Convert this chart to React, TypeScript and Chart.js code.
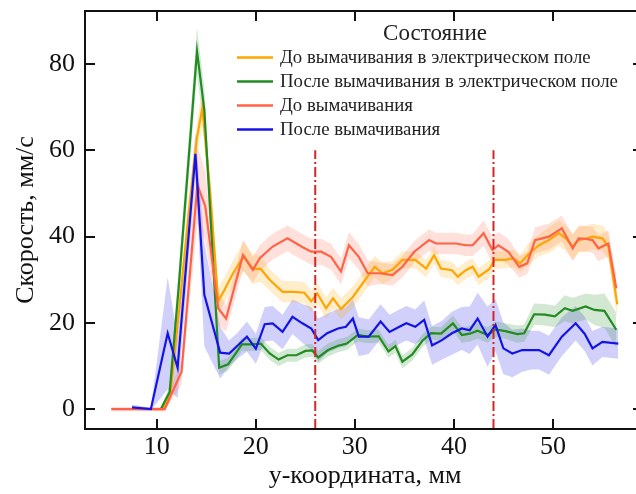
import React, { useEffect, useRef } from "react";
import { Chart, registerables } from "chart.js";

Chart.register(...registerables);

// ---- axes ----
const X_TICKS = [10, 20, 30, 40, 50];
const Y_TICKS = [0, 20, 40, 60, 80];
const X_MIN = 2.75;
const X_MAX = 59.3;
const Y_MIN = -4.6;
const Y_MAX = 92.3;
const X_TITLE = "y-координата, мм";
const Y_TITLE = "Скорость, мм/с";

// ---- vertical dash-dot markers ----
const MARKER_X = [26, 44];
const MARKER_TOP = 60;

// ---- legend ----
const LEGEND_TITLE = "Состояние";
const LABELS = [
  "До вымачивания в электрическом поле",
  "После вымачивания в электрическом поле",
  "До вымачивания",
  "После вымачивания",
];
const COLORS = ["#FFA500", "#228B22", "#FF6347", "#1414E6"];
const BAND_COLORS = [
  "rgba(255,165,0,0.2)",
  "rgba(34,139,34,0.2)",
  "rgba(255,99,71,0.2)",
  "rgba(20,20,230,0.2)",
];

// ---- series: До вымачивания в электрическом поле (orange) ----
const orangeX = [9.6, 10.6, 11.4, 12.3, 13.2, 14.06, 14.6, 15.4, 16.2, 16.8, 17.7, 18.8, 19.7, 20.5, 21.4, 22.7, 23.9, 24.9, 25.6, 26.2, 27.1, 27.8, 28.6, 29.8, 30.8, 32.0, 32.8, 33.8, 34.8, 36.1, 37.2, 38.0, 38.7, 39.8, 40.4, 41.2, 41.9, 42.5, 43.6, 44.1, 45.2, 46.0, 46.7, 47.6, 48.6, 49.6, 50.6, 51.3, 52.0, 52.6, 53.3, 54.0, 55.0, 55.6, 56.5];
const orangeY = [0, 0, 4, 24, 45, 63, 69.8, 50, 25, 27.5, 31.5, 35.5, 32.5, 32.5, 30, 27.2, 27.2, 27, 25, 26.8, 23.4, 25.7, 23.2, 26, 29.2, 33, 31.5, 32.3, 34.6, 34.6, 32.6, 35.7, 32.6, 32.2, 30.7, 32.2, 33, 30.7, 32.5, 34.6, 34.6, 35, 33.8, 36.1, 38, 39.2, 40.8, 39.6, 37.7, 39.2, 39.5, 40, 39.6, 37.7, 24.3];
const orangeErr = [0.3, 0.3, 1.5, 3, 4, 4, 4, 4, 3, 3, 3, 3.5, 3.5, 3, 2.5, 2.5, 2.5, 2.5, 2.5, 2.5, 2.5, 2.5, 2.5, 2.5, 2.5, 2.5, 2.5, 2, 2, 2, 2, 2, 2, 2, 2, 2, 2, 2, 2, 2, 2, 2, 2, 2.5, 2.5, 3, 3, 3, 3, 3, 3, 3, 3, 3, 3.5];

// ---- series: После вымачивания в электрическом поле (green) ----
const greenX = [10.4, 11.3, 12.2, 14.06, 14.8, 16.3, 17.2, 18.6, 19.6, 20.5, 21.4, 22.3, 23.2, 24.1, 25.0, 25.7, 26.3, 27.3, 28.3, 29.2, 30.3, 31.3, 32.4, 33.4, 34.1, 34.8, 35.8, 36.8, 37.7, 38.7, 39.9, 40.8, 41.6, 42.4, 43.4, 44.2, 45.2, 46.4, 47.1, 48.1, 49.2, 50.2, 51.2, 52.0, 53.3, 54.2, 55.2, 56.4];
const greenY = [0, 4, 28, 83, 69.4, 9.6, 10.4, 15.0, 15.0, 15.2, 12.9, 11.5, 12.5, 12.5, 13.5, 13.6, 12.0, 13.7, 14.7, 15.2, 17.2, 16.8, 16.9, 13.4, 14.6, 11.0, 12.7, 15.8, 17.6, 17.5, 19.9, 17.2, 17.5, 18.2, 17.2, 18.5, 18.1, 17.4, 17.6, 22.0, 21.9, 21.5, 23.4, 22.8, 23.8, 23.0, 22.8, 18.4];
const greenErr = [0.3, 1.5, 4, 5.5, 5, 1.5, 1.5, 1.5, 1.5, 1.5, 1.5, 1.5, 1.5, 1.5, 1.5, 1.5, 1.5, 1.5, 1.5, 1.5, 1.5, 1.5, 1.5, 1.5, 1.5, 1.5, 1.5, 1.5, 1.5, 1.5, 1.8, 1.8, 1.8, 1.8, 1.8, 1.8, 1.8, 2, 2, 2.5, 2.5, 2.5, 3, 3, 3, 3.5, 4, 4];

// ---- series: До вымачивания (tomato) ----
const redX = [5.4, 7.4, 9.2, 10.8, 12.5, 14.1, 14.9, 16.2, 17.0, 18.7, 19.7, 20.4, 21.7, 23.2, 24.6, 25.6, 26.6, 27.6, 28.6, 29.4, 30.4, 31.3, 32.5, 33.8, 34.8, 36.0, 37.5, 38.2, 39.2, 40.2, 41.2, 41.9, 43.0, 43.9, 44.5, 45.5, 46.6, 47.4, 48.2, 49.6, 50.9, 52.0, 52.6, 53.3, 54.0, 54.6, 55.6, 56.4];
const redY = [0, 0, 0, 0, 8.7, 52, 47, 23.4, 21, 35.7, 32.3, 35, 37.7, 39.6, 37.7, 36.5, 36.5, 35.3, 31.9, 38, 35.3, 31.5, 31.5, 31.1, 33, 36.5, 39.2, 38.4, 38.4, 38.4, 38, 38, 40.8, 36.9, 38, 36.5, 33, 33.8, 39.2, 40, 41.9, 37.3, 39.6, 39.5, 39.2, 37.3, 38.4, 28];
const redErr = [0.5, 0.5, 0.5, 0.5, 3, 9, 8, 4, 3, 3.5, 3, 3, 3, 3, 3, 3, 3, 3, 3, 3, 3, 3, 2.5, 2.5, 2.5, 2.5, 2.5, 2.5, 2.5, 2.5, 2.5, 2.5, 3, 3, 3, 3, 2.5, 2.5, 3, 3, 3, 3, 3, 3, 3, 3, 3, 3];

// ---- series: После вымачивания (blue) ----
const blueX = [7.5, 9.4, 11.1, 12.1, 13.9, 14.8, 16.4, 17.3, 18.2, 19.1, 20.0, 20.9, 21.7, 22.7, 23.7, 24.7, 25.6, 26.3, 27.2, 28.3, 29.1, 29.8, 30.4, 31.4, 32.6, 33.5, 34.5, 35.2, 36.1, 37.0, 37.8, 38.8, 39.8, 40.8, 41.6, 42.4, 43.4, 44.2, 45.0, 45.9, 46.9, 47.8, 48.6, 49.6, 50.9, 52.3, 53.2, 54.0, 55.0, 56.6];
const blueY = [0.4, 0, 17.6, 9.6, 59.2, 26.5, 13.1, 12.9, 14.8, 16.8, 14.0, 19.7, 19.9, 17.9, 21.4, 19.9, 18.7, 16.0, 17.6, 18.7, 19.1, 21.0, 16.8, 16.8, 20.3, 17.9, 19.1, 19.9, 19.1, 20.7, 14.8, 16.0, 17.6, 18.7, 18.3, 21.0, 16.8, 19.5, 14.1, 12.9, 13.7, 13.7, 13.7, 12.5, 16.8, 19.9, 17.5, 14.1, 15.6, 15.2];
const blueErr = [0.6, 0.3, 13, 7, 5, 12, 6, 3, 3, 3.5, 3.5, 4, 4, 4, 4, 4.5, 5, 5, 4.5, 4.5, 4.5, 4.5, 4.5, 4, 4, 4, 4, 4, 4, 4.5, 4.5, 4.5, 5, 5, 5.5, 6, 7, 6, 6, 5.5, 5, 4.5, 4.5, 4.5, 4.5, 4, 4, 4, 3.5, 3.5];

const SERIES = [
  { xs: orangeX, ys: orangeY, err: orangeErr, order: 4 },
  { xs: greenX, ys: greenY, err: greenErr, order: 3 },
  { xs: redX, ys: redY, err: redErr, order: 2 },
  { xs: blueX, ys: blueY, err: blueErr, order: 1 },
];

const FONT = "'Liberation Serif', 'Times New Roman', serif";

function points(xs: number[], ys: number[]) {
  return xs.map((x, i) => ({ x, y: ys[i] }));
}

const framePlugin = {
  id: "frame",
  afterDatasetsDraw(chart: any) {
    const { ctx, chartArea, scales } = chart;
    const { left, right, top, bottom } = chartArea;
    const L = 10;
    ctx.save();
    ctx.strokeStyle = "#111";
    ctx.lineWidth = 2;
    ctx.beginPath();
    ctx.rect(left, top, right - left, bottom - top);
    ctx.stroke();
    ctx.beginPath();
    for (const v of X_TICKS) {
      const px = Math.round(scales.x.getPixelForValue(v));
      ctx.moveTo(px, bottom);
      ctx.lineTo(px, bottom - L);
      ctx.moveTo(px, top);
      ctx.lineTo(px, top + L);
    }
    for (const v of Y_TICKS) {
      const py = Math.round(scales.y.getPixelForValue(v));
      ctx.moveTo(left, py);
      ctx.lineTo(left + L, py);
      ctx.moveTo(right, py);
      ctx.lineTo(right - L - 2, py);
    }
    ctx.stroke();
    ctx.restore();
  },
};

const legendPlugin = {
  id: "customLegend",
  afterDraw(chart: any) {
    const { ctx } = chart;
    ctx.save();
    ctx.fillStyle = "#222";
    ctx.textBaseline = "middle";
    ctx.textAlign = "center";
    ctx.font = `23px ${FONT}`;
    ctx.fillText(LEGEND_TITLE, 435, 34);
    ctx.textAlign = "left";
    ctx.font = `18.8px ${FONT}`;
    LABELS.forEach((label, i) => {
      const y = 57.5 + i * 24;
      ctx.strokeStyle = COLORS[i];
      ctx.lineWidth = 2.5;
      ctx.beginPath();
      ctx.moveTo(237, y);
      ctx.lineTo(273, y);
      ctx.stroke();
      ctx.fillText(label, 280, y + 1);
    });
    ctx.restore();
  },
};

export default function App() {
  const ref = useRef<HTMLCanvasElement | null>(null);

  useEffect(() => {
    if (!ref.current) return;
    const datasets: any[] = [];
    SERIES.forEach((s, i) => {
      datasets.push({
        label: LABELS[i],
        data: points(s.xs, s.ys),
        borderColor: COLORS[i],
        borderWidth: 2.2,
        pointRadius: 0,
        tension: 0,
        fill: false,
        order: s.order,
      });
    });
    SERIES.forEach((s, i) => {
      datasets.push({
        label: LABELS[i] + " upper",
        data: points(s.xs, s.ys.map((v, k) => v + s.err[k])),
        borderWidth: 0,
        borderColor: "rgba(0,0,0,0)",
        pointRadius: 0,
        tension: 0,
        fill: false,
        order: 10 + i,
      });
      datasets.push({
        label: LABELS[i] + " lower",
        data: points(s.xs, s.ys.map((v, k) => v - s.err[k])),
        borderWidth: 0,
        borderColor: "rgba(0,0,0,0)",
        backgroundColor: BAND_COLORS[i],
        pointRadius: 0,
        tension: 0,
        fill: "-1",
        order: 10 + i,
      });
    });
    MARKER_X.forEach((mx) => {
      datasets.push({
        label: "marker " + mx,
        data: [
          { x: mx, y: Y_MIN },
          { x: mx, y: MARKER_TOP },
        ],
        borderColor: "#D62728",
        borderWidth: 2,
        borderDash: [10, 3, 2, 3],
        pointRadius: 0,
        fill: false,
        order: 0,
      });
    });

    const chart = new Chart(ref.current, {
      type: "line",
      data: { datasets },
      options: {
        animation: false,
        responsive: false,
        devicePixelRatio: 1,
        layout: { padding: { left: 0, right: 15, top: 11, bottom: 0 } },
        plugins: { legend: { display: false }, tooltip: { enabled: false } },
        scales: {
          x: {
            type: "linear",
            min: X_MIN,
            max: X_MAX,
            grid: { display: false, drawTicks: false },
            border: { display: false },
            afterBuildTicks: (scale: any) => {
              scale.ticks = X_TICKS.map((v) => ({ value: v }));
            },
            afterFit: (scale: any) => {
              scale.height = 65;
              scale.paddingLeft = 0;
              scale.paddingRight = 0;
            },
            ticks: { color: "#111", padding: 3, font: { family: FONT, size: 26 } },
            title: {
              display: true,
              text: X_TITLE,
              color: "#111",
              padding: { top: 0, bottom: 2 },
              font: { family: FONT, size: 26 },
            },
          },
          y: {
            type: "linear",
            min: Y_MIN,
            max: Y_MAX,
            grid: { display: false, drawTicks: false },
            border: { display: false },
            afterBuildTicks: (scale: any) => {
              scale.ticks = Y_TICKS.map((v) => ({ value: v }));
            },
            afterFit: (scale: any) => {
              scale.width = 85;
              scale.paddingTop = 0;
              scale.paddingBottom = 0;
            },
            ticks: { color: "#111", padding: 10, font: { family: FONT, size: 26 } },
            title: {
              display: true,
              text: Y_TITLE,
              color: "#111",
              padding: { top: 11, bottom: 0 },
              font: { family: FONT, size: 26 },
            },
          },
        },
      },
      plugins: [framePlugin, legendPlugin],
    });
    return () => chart.destroy();
  }, []);

  return (
    <div
      style={{
        position: "fixed",
        left: 0,
        top: 0,
        width: 636,
        height: 494,
        overflow: "hidden",
        background: "#fff",
      }}
    >
      <canvas ref={ref} width={660} height={494} style={{ display: "block" }} />
    </div>
  );
}
